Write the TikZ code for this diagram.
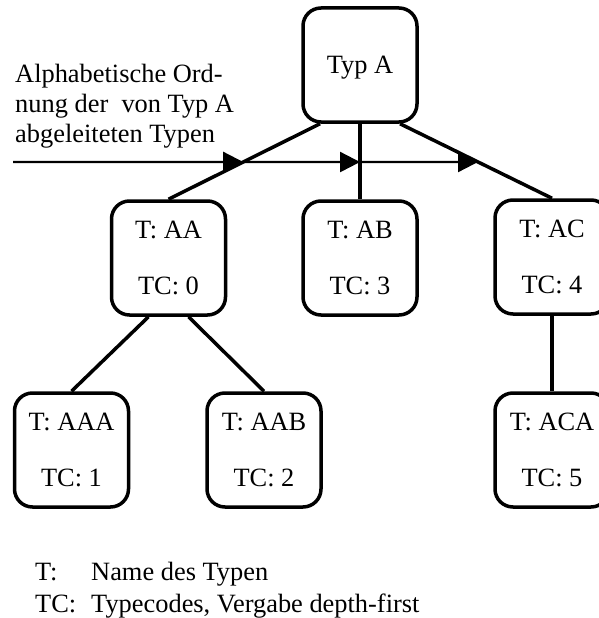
\documentclass[tikz,border=0pt]{standalone}
\usepackage{fontspec}
\setmainfont{Liberation Serif}
\usetikzlibrary{arrows.meta,calc}
\begin{document}
\begin{tikzpicture}[x=1pt,y=-1pt,
  typebox/.style={draw, line width=3.5pt, rounded corners=18pt,
    minimum width=114pt, minimum height=114pt, inner sep=0pt,
    align=center, font=\fontsize{26.4pt}{56pt}\selectfont},
  link/.style={line width=3.5pt},
  order/.style={line width=2.2pt, -{Triangle[length=20pt,width=20pt]}},
  txt/.style={inner sep=0pt, anchor=base west,
    font=\fontsize{26.4pt}{29.7pt}\selectfont}]

\useasboundingbox (0,0) rectangle (599,618);
\clip (0,0) rectangle (599,618);

% type hierarchy
\node[typebox, text depth=0pt] (A) at (360,65) {Typ A};
\node[typebox] (AA)  at (168.5,258) {T: AA\\TC: 0};
\node[typebox] (AB)  at (360,258)   {T: AB\\TC: 3};
\node[typebox] (AC)  at (552,257)   {T: AC\\TC: 4};
\node[typebox] (AAA) at (71.5,450)  {T: AAA\\TC: 1};
\node[typebox] (AAB) at (264,450)   {T: AAB\\TC: 2};
\node[typebox] (ACA) at (552,450)   {T: ACA\\TC: 5};

% connector end points
\coordinate (A-l)  at ($(A.south)+(-40,0)$);
\coordinate (A-m)  at (A.south);
\coordinate (A-r)  at ($(A.south)+(40,0)$);
\coordinate (AA-n) at (AA.north);
\coordinate (AB-n) at (AB.north);
\coordinate (AC-n) at (AC.north);
\coordinate (AA-l) at ($(AA.south)+(-20,0)$);
\coordinate (AA-r) at ($(AA.south)+(20,0)$);

% alphabetical order arrow across the first level
\coordinate (ord-s) at (13,162);
\coordinate (ord-e) at (590,162);
\coordinate (ord-1) at (intersection of ord-s--ord-e and A-l--AA-n);
\coordinate (ord-2) at (intersection of ord-s--ord-e and A-m--AB-n);
\coordinate (ord-3) at (intersection of ord-s--ord-e and A-r--AC-n);
\draw[order] (ord-s) -- (ord-1);
\draw[order] (ord-1) -- (ord-2);
\draw[order] (ord-2) -- (ord-3);

% tree edges
\draw[link] (A-l) -- (AA-n);
\draw[link] (A-m) -- (AB-n);
\draw[link] (A-r) -- (AC-n);
\draw[link] (AA-l) -- (AAA.north);
\draw[link] (AA-r) -- (AAB.north);
\draw[link] (AC.south) -- (ACA.north);

% texts (base anchor sits on the last line)
\node[txt, align=left] (ord-label) at (15,142)
  {Alphabetische Ord-\\nung der\ \ von Typ A\\abgeleiteten Typen};
\node[txt] (key-t)       at (35,580) {T:};
\node[txt] (key-t-desc)  at (91,580) {Name des Typen};
\node[txt] (key-tc)      at (35,612) {TC:};
\node[txt] (key-tc-desc) at (91,612) {Typecodes, Vergabe depth-first};
\end{tikzpicture}
\end{document}
